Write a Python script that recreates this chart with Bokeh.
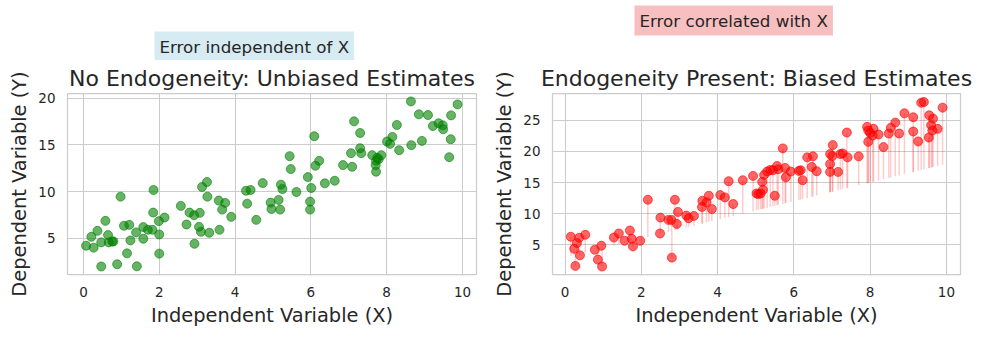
from bokeh.plotting import figure
from bokeh.layouts import row, column
from bokeh.models import Range1d, FixedTicker, Title, Label, ColumnDataSource
from bokeh.embed import file_html
from bokeh.resources import INLINE

# ---------------- data ----------------
x_exog = [0.07, 0.21, 0.27, 0.37, 0.47, 0.47, 0.58, 0.65, 0.67, 0.76, 0.79, 0.89, 0.98,
          1.07, 1.15, 1.21, 1.24, 1.39, 1.41, 1.58, 1.58, 1.70, 1.82, 1.85, 1.84, 1.99,
          2.00, 2.00, 2.14, 2.57, 2.72, 2.80, 2.92, 2.93, 3.05, 3.07, 3.10, 3.13, 3.26,
          3.27, 3.32, 3.57, 3.59, 3.66, 3.74, 3.90, 4.29, 4.32, 4.41, 4.56, 4.73, 4.94,
          4.96, 5.15, 5.19, 5.21, 5.25, 5.44, 5.47, 5.62, 5.92, 5.98, 5.98, 6.01, 6.09,
          6.12, 6.22, 6.37, 6.63, 6.85, 7.06, 7.09, 7.14, 7.30, 7.30, 7.33, 7.62, 7.71,
          7.72, 7.72, 7.75, 7.79, 7.86, 8.01, 8.09, 8.15, 8.27, 8.33, 8.64, 8.65, 8.85,
          8.93, 9.09, 9.22, 9.37, 9.48, 9.49, 9.65, 9.69, 9.70, 9.87]
y_exog = [4.18, 5.14, 3.97, 5.78, 4.54, 1.95, 6.85, 5.32, 4.54, 4.64, 4.64, 2.19, 9.45,
          6.32, 3.36, 6.42, 4.75, 5.61, 1.97, 4.93, 6.18, 5.89, 5.89, 10.17, 7.74, 6.82,
          5.39, 3.33, 7.21, 8.46, 6.46, 7.74, 7.46, 4.39, 6.21, 7.71, 5.68, 10.49, 11.02,
          9.45, 5.57, 9.03, 5.89, 8.06, 8.78, 7.28, 10.09, 8.70, 10.17, 6.96, 10.91, 8.81,
          8.13, 9.10, 8.06, 10.74, 10.27, 13.80, 12.41, 9.95, 11.55, 8.92, 8.06, 10.38, 15.94,
          12.77, 13.30, 10.88, 11.16, 12.84, 14.12, 12.66, 17.54, 16.29, 14.65, 14.12, 13.91, 12.84,
          12.13, 13.30, 13.62, 13.48, 13.91, 15.37, 15.12, 15.87, 17.15, 14.44, 19.68, 14.98, 18.29,
          15.44, 18.22, 17.04, 17.33, 17.11, 16.69, 13.69, 15.62, 18.18, 19.36]

x_endog = [0.15, 0.24, 0.27, 0.31, 0.37, 0.39, 0.53, 0.78, 0.86, 0.95, 0.97, 1.28, 1.41,
           1.56, 1.70, 1.75, 1.78, 1.97, 2.17, 2.49, 2.50, 2.71, 2.79, 2.80, 2.88, 2.93,
           2.96, 3.18, 3.24, 3.38, 3.59, 3.60, 3.71, 3.77, 3.85, 4.07, 4.19, 4.29, 4.41,
           4.66, 4.93, 5.02, 5.07, 5.13, 5.17, 5.19, 5.22, 5.30, 5.38, 5.45, 5.50, 5.56,
           5.59, 5.71, 5.77, 5.79, 5.92, 6.13, 6.18, 6.23, 6.35, 6.47, 6.50, 6.60, 6.95,
           6.95, 6.95, 7.02, 7.01, 7.16, 7.22, 7.28, 7.39, 7.41, 7.70, 7.92, 7.95, 7.95,
           8.00, 8.07, 8.09, 8.22, 8.35, 8.49, 8.54, 8.66, 8.76, 8.90, 9.13, 9.13, 9.26,
           9.34, 9.41, 9.54, 9.55, 9.60, 9.65, 9.63, 9.77, 9.90]
y_endog = [6.28, 4.36, 1.60, 5.27, 6.12, 3.30, 6.60, 4.20, 2.61, 4.84, 1.50, 6.17, 6.81,
           5.64, 7.29, 5.96, 4.73, 5.64, 12.23, 6.81, 9.36, 8.99, 8.99, 2.93, 12.23, 8.35,
           10.27, 9.68, 9.26, 9.63, 11.06, 12.07, 11.81, 12.87, 10.74, 12.98, 12.61, 15.21, 11.54,
           15.37, 16.06, 13.24, 13.14, 13.24, 15.11, 13.83, 16.22, 16.76, 17.02, 16.97, 12.87, 17.66,
           17.13, 20.48, 17.34, 15.85, 16.76, 16.86, 16.97, 15.37, 19.04, 17.50, 19.20, 16.81, 19.57,
           17.98, 16.70, 21.01, 19.26, 16.70, 19.57, 19.68, 23.03, 19.04, 19.20, 23.94, 21.54, 23.35,
           22.98, 22.55, 23.62, 22.71, 20.69, 22.87, 23.78, 24.63, 22.87, 26.12, 25.48, 23.19, 21.60,
           27.82, 27.93, 22.23, 25.80, 24.20, 25.27, 23.35, 23.62, 27.02]

# true relationship (lower end of the red deviation lines)
TRUE_INTERCEPT = 3.0
TRUE_SLOPE = 1.5

x_ticks = [0, 2, 4, 6, 8, 10]
y_ticks_left = [5, 10, 15, 20]
y_ticks_right = [5, 10, 15, 20, 25]

titles = ["No Endogeneity: Unbiased Estimates", "Endogeneity Present: Biased Estimates"]
notes = ["Error independent of X", "Error correlated with X"]
x_label = "Independent Variable (X)"
y_label = "Dependent Variable (Y)"

FONT = "DejaVu Sans"
TXT = "#262626"

STRIP_H = 60          # strip holding the two annotation boxes
PLOT_H = 338 - STRIP_H


def make_fig(width, left_border, right_border, xr, yr, yticks, title):
    p = figure(width=width, height=PLOT_H, output_backend="svg", toolbar_location=None,
               x_range=Range1d(*xr), y_range=Range1d(*yr),
               min_border_left=left_border, min_border_right=right_border,
               min_border_top=92 - STRIP_H, min_border_bottom=64)
    p.title = None
    p.add_layout(Title(text=title, align="center", standoff=6,
                       text_font=FONT, text_font_size="22px", text_font_style="normal",
                       text_color=TXT), "above")
    p.xaxis.ticker = FixedTicker(ticks=x_ticks)
    p.yaxis.ticker = FixedTicker(ticks=yticks)
    p.xaxis.axis_label = x_label
    p.yaxis.axis_label = y_label
    for ax in (p.xaxis, p.yaxis):
        ax.axis_line_color = None
        ax.major_tick_line_color = None
        ax.minor_tick_line_color = None
        ax.major_tick_out = 0
        ax.major_tick_in = 0
        ax.major_label_text_font = FONT
        ax.major_label_text_font_size = "13.5px"
        ax.major_label_text_color = TXT
        ax.major_label_standoff = 12
        ax.axis_label_text_font = FONT
        ax.axis_label_text_font_size = "19.4px"
        ax.axis_label_text_font_style = "normal"
        ax.axis_label_text_color = TXT
        ax.axis_label_standoff = 4
    p.grid.grid_line_color = "#cccccc"
    p.grid.grid_line_width = 1
    p.outline_line_color = "#cccccc"
    p.outline_line_width = 1.25
    p.background_fill_color = "white"
    p.border_fill_color = "white"
    return p


# ---------------- annotation strip (pixel coordinates, y downward) ----------------
strip = figure(width=983, height=STRIP_H, output_backend="svg", toolbar_location=None,
               x_range=Range1d(0, 983), y_range=Range1d(STRIP_H, 0),
               x_axis_type=None, y_axis_type=None, min_border=0)
strip.title = None
strip.grid.visible = False
strip.outline_line_color = None
strip.background_fill_color = "white"
strip.border_fill_color = "white"
for text, color, lx, ly in [(notes[0], "#add8e6", 154, 46), (notes[1], "#f08080", 634, 20)]:
    strip.add_layout(Label(x=lx, y=ly, text=text, text_font=FONT, text_font_size="16.7px",
                           text_color=TXT, text_baseline="alphabetic", text_align="left",
                           background_fill_color=color, background_fill_alpha=0.5,
                           padding=(5, 5)))

# ---------------- left panel ----------------
p1 = make_fig(490, 67, 14, (-0.42, 10.37), (1.09, 20.53), y_ticks_left, titles[0])
src1 = ColumnDataSource(dict(x=x_exog, y=y_exog))
p1.scatter("x", "y", source=src1, size=9, fill_color="green", line_color="green",
           fill_alpha=0.6, line_alpha=0.6)

# ---------------- right panel ----------------
p2 = make_fig(493, 61, 23, (-0.33, 10.37), (0.22, 29.3), y_ticks_right, titles[1])
base = [TRUE_INTERCEPT + TRUE_SLOPE * v for v in x_endog]
src2 = ColumnDataSource(dict(x=x_endog, y=y_endog, base=base))
p2.segment(x0="x", y0="base", x1="x", y1="y", source=src2, line_color="red",
           line_alpha=0.2, line_width=1.5)
p2.scatter("x", "y", source=src2, size=9, fill_color="red", line_color="red",
           fill_alpha=0.6, line_alpha=0.6)

layout = column(strip, row(p1, p2))
open("out.html", "w").write(file_html(layout, INLINE))
